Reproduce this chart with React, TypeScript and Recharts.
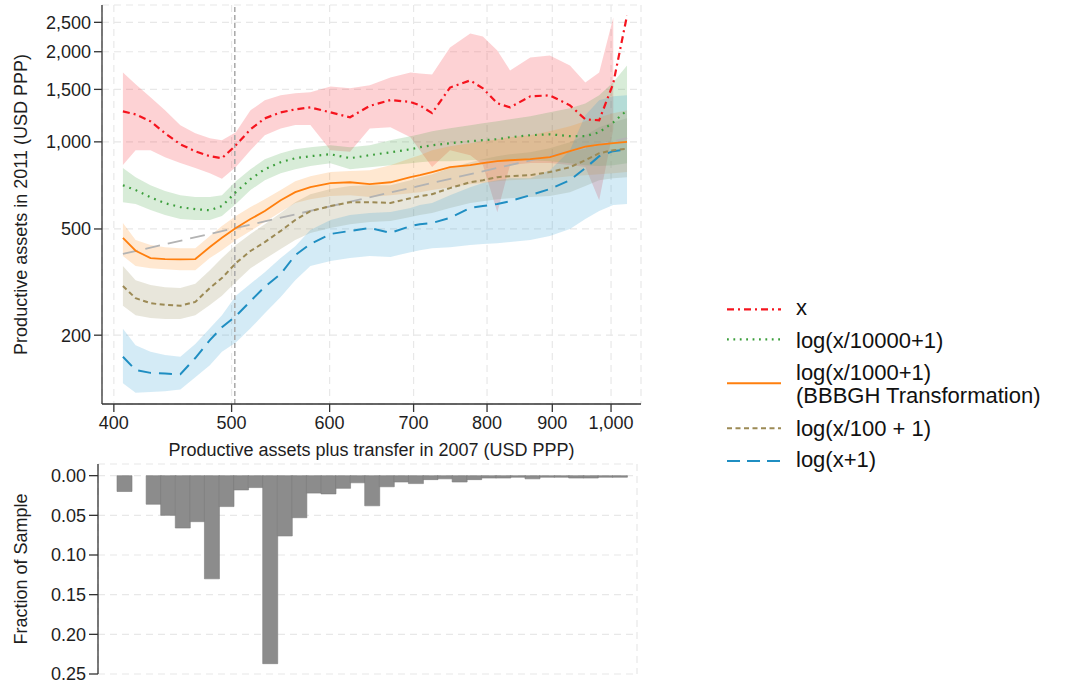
import React from "react";
import {
  ComposedChart,
  Area,
  Line,
  Bar,
  XAxis,
  YAxis,
  CartesianGrid,
  ReferenceLine,
} from "recharts";

const FONT = "'Liberation Sans', Arial, Helvetica, sans-serif";

// x positions (USD PPP, 2007) where the smoothed curves are evaluated
const xGrid = [407, 417, 429, 441, 454, 467, 480, 491, 504, 518, 532, 548, 563, 579, 601, 623, 646, 671, 696, 708, 724, 748, 776, 794, 815, 834, 865, 896, 929, 955, 979, 1004, 1029];

const redMid = [1267, 1238, 1173, 1069, 981, 929, 894, 880, 974, 1103, 1200, 1257, 1286, 1306, 1257, 1210, 1322, 1382, 1362, 1327, 1250, 1521, 1607, 1512, 1348, 1306, 1422, 1433, 1327, 1191, 1182, 1571, 2633];
const redHigh = [1707, 1559, 1411, 1277, 1137, 1069, 1028, 1013, 1077, 1277, 1379, 1433, 1455, 1467, 1535, 1512, 1547, 1644, 1707, 1695, 1682, 2066, 2297, 2246, 2020, 1734, 1915, 1944, 1802, 1582, 1707, 2593, null];
const redLow = [835, 937, 937, 887, 848, 815, 782, 748, 822, 937, 1052, 1110, 1140, 1140, 937, 925, 1110, 1120, 1036, 937, 822, 937, 900, 835, 573, 835, 848, 848, 835, 822, 631, 1100, null];

const greenMid = [711, 684, 646, 616, 597, 587, 582, 602, 673, 746, 807, 853, 880, 894, 908, 880, 901, 922, 944, 959, 974, 989, 1005, 1013, 1021, 1037, 1053, 1061, 1045, 1045, 1077, 1164, 1277];
const greenHigh = [814, 758, 711, 679, 657, 647, 647, 657, 734, 807, 873, 915, 944, 959, 974, 959, 974, 1013, 1045, 1061, 1086, 1111, 1137, 1155, 1173, 1191, 1219, 1258, 1297, 1347, 1433, 1583, 1802];
const greenLow = [621, 612, 583, 560, 542, 538, 538, 556, 612, 684, 740, 782, 807, 827, 846, 807, 820, 833, 846, 853, 860, 860, 866, 866, 866, 866, 866, 860, 846, 833, 827, 833, 846];

const orangeMid = [465, 418, 393, 390, 389, 390, 431, 465, 504, 542, 578, 631, 673, 700, 723, 728, 717, 728, 758, 770, 789, 820, 833, 846, 860, 866, 873, 887, 930, 963, 978, 990, 1000];
const orangeHigh = [525, 457, 438, 430, 427, 427, 472, 512, 556, 597, 636, 684, 734, 764, 789, 795, 801, 833, 880, 901, 937, 966, 990, 1005, 1021, 1037, 1053, 1086, 1128, 1173, 1210, 1248, 1277];
const orangeLow = [400, 368, 361, 358, 355, 355, 393, 420, 457, 492, 529, 574, 617, 636, 652, 657, 647, 657, 667, 673, 684, 700, 717, 723, 734, 740, 746, 752, 764, 770, 776, 782, 789];

const oliveMid = [310, 279, 267, 263, 261, 270, 305, 332, 377, 417, 449, 492, 538, 578, 602, 621, 621, 617, 641, 652, 662, 695, 728, 740, 758, 764, 770, 789, 820, 866, 915, 937, 948];
const oliveHigh = [368, 326, 313, 307, 305, 316, 355, 393, 438, 480, 520, 569, 621, 662, 690, 706, 711, 711, 740, 758, 776, 814, 853, 873, 894, 908, 922, 952, 997, 1053, 1120, 1164, 1200];
const oliveLow = [261, 240, 234, 232, 232, 240, 263, 285, 321, 361, 390, 424, 457, 484, 504, 520, 529, 534, 551, 560, 569, 593, 617, 626, 636, 641, 647, 652, 673, 706, 740, 752, 758];

const blueMid = [163, 143, 139, 138, 137, 161, 191, 215, 238, 272, 308, 344, 403, 442, 480, 492, 504, 484, 512, 520, 525, 547, 593, 602, 612, 626, 657, 690, 740, 814, 894, 930, 941];
const blueHigh = [212, 182, 171, 166, 163, 184, 213, 240, 285, 316, 349, 393, 434, 496, 538, 560, 569, 574, 593, 607, 617, 657, 700, 723, 740, 752, 752, 801, 937, 1229, 1379, 1422, 1433];
const blueLow = [125, 113, 114, 115, 117, 133, 150, 171, 187, 213, 244, 282, 326, 368, 384, 393, 400, 397, 413, 420, 427, 430, 438, 442, 445, 449, 457, 472, 500, 542, 578, 607, 612];

// 45-degree reference line (y = x)
const diagX = [407, 1029];

const cutoff = 503;

const xTicks = [400, 500, 600, 700, 800, 900, 1000];
const yTicks = [200, 500, 1000, 1500, 2000, 2500];

// histogram: lower edge of each bin and share of the sample
const histBins = [406, 418, 429, 441, 453, 466, 479, 492, 505, 519, 533, 548, 563, 578, 593, 609, 626, 643, 660, 677, 695, 714, 733, 752, 772, 793, 814, 835, 857, 880, 903, 927, 951, 976, 1001];
const histShare = [0.02, 0, 0.036, 0.05, 0.066, 0.058, 0.13, 0.039, 0.018, 0.015, 0.237, 0.076, 0.053, 0.022, 0.023, 0.016, 0.009, 0.038, 0.014, 0.008, 0.01, 0.005, 0.004, 0.008, 0.005, 0.003, 0.003, 0.002, 0.004, 0.002, 0.002, 0.003, 0.003, 0.002, 0.002];
const histTicks = [0, 0.05, 0.1, 0.15, 0.2, 0.25];

const RED = "#f5141e";
const GREEN = "#3b9e3b";
const ORANGE = "#ff7f0e";
const OLIVE = "#9c8a55";
const BLUE = "#1f8ec2";

// log(v + 50) axis, the spacing used by the original figure
function shiftedLog(shift: number): any {
  let dom = [1, 10];
  let rng = [0, 1];
  const f = (v: number) => Math.log(v + shift);
  const scale: any = (v: number) => {
    const a = f(dom[0]);
    const b = f(dom[1]);
    return rng[0] + ((f(v) - a) / (b - a)) * (rng[1] - rng[0]);
  };
  scale.domain = (d?: number[]) => {
    if (d === undefined) return dom.slice();
    dom = d.map(Number);
    return scale;
  };
  scale.range = (r?: number[]) => {
    if (r === undefined) return rng.slice();
    rng = r.map(Number);
    return scale;
  };
  scale.invert = (p: number) => {
    const a = f(dom[0]);
    const b = f(dom[1]);
    return Math.exp(a + ((p - rng[0]) / (rng[1] - rng[0])) * (b - a)) - shift;
  };
  scale.ticks = () => dom.slice();
  scale.copy = () => shiftedLog(shift).domain(dom).range(rng);
  return scale;
}

const band = (lo: number | null, hi: number | null) =>
  lo == null || hi == null ? null : [lo, hi];

const rows = xGrid.map((x, i) => ({
  x,
  red: redMid[i],
  redBand: band(redLow[i], redHigh[i]),
  green: greenMid[i],
  greenBand: band(greenLow[i], greenHigh[i]),
  orange: orangeMid[i],
  orangeBand: band(orangeLow[i], orangeHigh[i]),
  olive: oliveMid[i],
  oliveBand: band(oliveLow[i], oliveHigh[i]),
  blue: blueMid[i],
  blueBand: band(blueLow[i], blueHigh[i]),
}));

const diagRows = diagX.map((x) => ({ x, diag: x }));

const histRows = histBins.map((bin, i) => ({ bin, share: histShare[i] }));

const tickStyle = { fontSize: 18, fill: "#1e1e1e", fontFamily: FONT };
const fmtThousands = (v: number) => v.toLocaleString("en-US");

const YTitle = ({ viewBox, text }: any) => {
  const cy = viewBox.y + viewBox.height / 2;
  return (
    <text
      x={26.5}
      y={cy}
      transform={`rotate(-90 26.5 ${cy})`}
      textAnchor="middle"
      fontSize={18}
      fontFamily={FONT}
      fill="#1e1e1e"
    >
      {text}
    </text>
  );
};

const XTitle = ({ viewBox, text }: any) => (
  <text
    x={viewBox.x + viewBox.width / 2}
    y={viewBox.y + 52}
    textAnchor="middle"
    fontSize={18}
    fontFamily={FONT}
    fill="#1e1e1e"
  >
    {text}
  </text>
);

const LegendBox = () => {
  const items = [
    { color: RED, dash: "7 4 2 4", lineY: 29.3, w: 2.2, text: ["x"], base: [35] },
    { color: GREEN, dash: "1.8 4.6", lineY: 59.3, w: 2.2, text: ["log(x/10000+1)"], base: [68.3] },
    { color: ORANGE, dash: undefined, lineY: 103.3, w: 2, text: ["log(x/1000+1)", "(BBBGH Transformation)"], base: [99.5, 123] },
    { color: OLIVE, dash: "5 3.5", lineY: 148.3, w: 2, text: ["log(x/100 + 1)"], base: [156] },
    { color: BLUE, dash: "13 7", lineY: 181, w: 2, text: ["log(x+1)"], base: [187.3] },
  ];
  return (
    <svg width={366} height={200} style={{ position: "absolute", left: 700, top: 280 }}>
      {items.map((it, i) => (
        <g key={i}>
          <line x1={27} x2={81} y1={it.lineY} y2={it.lineY} stroke={it.color} strokeWidth={it.w} strokeDasharray={it.dash} />
          {it.text.map((t, j) => (
            <text key={j} x={96} y={it.base[j]} fontSize={22} fontFamily={FONT} fill="#111">
              {t}
            </text>
          ))}
        </g>
      ))}
    </svg>
  );
};

const TopChart = () => {
  const xScale = shiftedLog(50);
  const yScale = shiftedLog(50);
  return (
    <ComposedChart
      width={660}
      height={460}
      data={rows}
      margin={{ top: 5, right: 19, bottom: 0, left: 0 }}
    >
      <CartesianGrid stroke="#e8e8e8" strokeDasharray="7 5" strokeWidth={1.2} />
      <XAxis
        dataKey="x"
        type="number"
        scale={xScale}
        domain={[391, 1055]}
        allowDataOverflow
        ticks={xTicks}
        tickFormatter={fmtThousands}
        tick={tickStyle}
        tickSize={8}
        tickMargin={4}
        height={56}
        stroke="#333"
        strokeWidth={1.3}
        label={<XTitle text="Productive assets plus transfer in 2007 (USD PPP)" />}
      />
      <YAxis
        type="number"
        scale={yScale}
        domain={[100, 2850]}
        allowDataOverflow
        ticks={yTicks}
        tickFormatter={fmtThousands}
        tick={tickStyle}
        tickSize={8}
        tickMargin={3}
        width={102}
        stroke="#333"
        strokeWidth={1.3}
        label={<YTitle text="Productive assets in 2011 (USD PPP)" />}
      />
      <Area dataKey="redBand" type="linear" stroke="none" fill="#f8323c" fillOpacity={0.22} isAnimationActive={false} />
      <Area dataKey="greenBand" type="linear" stroke="none" fill="#3ca03c" fillOpacity={0.2} isAnimationActive={false} />
      <Area dataKey="orangeBand" type="linear" stroke="none" fill="#ff8c1a" fillOpacity={0.2} isAnimationActive={false} />
      <Area dataKey="oliveBand" type="linear" stroke="none" fill="#a0956a" fillOpacity={0.24} isAnimationActive={false} />
      <Area dataKey="blueBand" type="linear" stroke="none" fill="#3aa5d4" fillOpacity={0.22} isAnimationActive={false} />
      <ReferenceLine x={cutoff} stroke="#a8a8a8" strokeWidth={1.5} strokeDasharray="5 3" />
      <Line data={diagRows} dataKey="diag" type="linear" stroke="#b3b3b3" strokeWidth={1.8} strokeDasharray="15 8" dot={false} isAnimationActive={false} />
      <Line dataKey="blue" type="linear" stroke={BLUE} strokeWidth={2} strokeDasharray="13 8" dot={false} isAnimationActive={false} />
      <Line dataKey="olive" type="linear" stroke={OLIVE} strokeWidth={2} strokeDasharray="5 3.5" dot={false} isAnimationActive={false} />
      <Line dataKey="orange" type="linear" stroke={ORANGE} strokeWidth={1.8} dot={false} isAnimationActive={false} />
      <Line dataKey="green" type="linear" stroke={GREEN} strokeWidth={2.2} strokeDasharray="1.8 5" dot={false} isAnimationActive={false} />
      <Line dataKey="red" type="linear" stroke={RED} strokeWidth={2.2} strokeDasharray="7 4 2 4" dot={false} isAnimationActive={false} />
    </ComposedChart>
  );
};

const HistChart = () => {
  const xScale = shiftedLog(50);
  return (
    <ComposedChart
      width={650}
      height={248}
      data={histRows}
      margin={{ top: 24, right: 13, bottom: 14, left: 0 }}
      barCategoryGap={0}
      barGap={0}
    >
      <XAxis xAxisId="bins" dataKey="bin" type="category" hide padding={{ left: 19, right: 10 }} />
      <XAxis xAxisId="usd" type="number" scale={xScale} domain={[392, 1046]} allowDataOverflow ticks={xTicks} hide />
      <YAxis
        type="number"
        reversed
        domain={[-0.0147, 0.25]}
        allowDataOverflow
        ticks={histTicks}
        tickFormatter={(v: number) => v.toFixed(2)}
        tick={tickStyle}
        tickSize={9}
        tickMargin={3}
        width={98}
        stroke="#333"
        strokeWidth={1.3}
        label={<YTitle text="Fraction of Sample" />}
      />
      <CartesianGrid xAxisId="usd" stroke="#e8e8e8" strokeDasharray="7 5" strokeWidth={1.2} />
      <Bar xAxisId="bins" dataKey="share" fill="#8c8c8c" stroke="#7c7c7c" strokeWidth={0.6} isAnimationActive={false} />
    </ComposedChart>
  );
};

export default function App() {
  return (
    <div style={{ position: "absolute", left: 0, top: 0, width: 1066, height: 688, background: "#fff", fontFamily: FONT }}>
      <div style={{ position: "absolute", left: 0, top: 0 }}>
        <TopChart />
      </div>
      <div style={{ position: "absolute", left: 0, top: 440 }}>
        <HistChart />
      </div>
      <LegendBox />
    </div>
  );
}
